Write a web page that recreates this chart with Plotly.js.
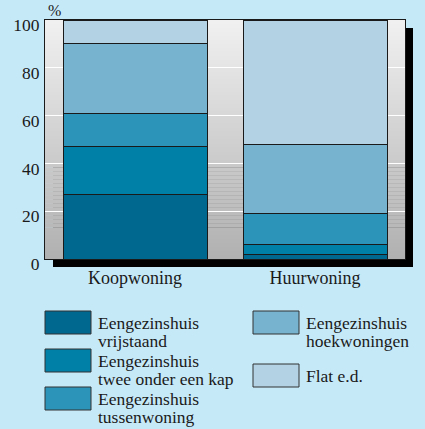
<!DOCTYPE html>
<html>
<head>
<meta charset="utf-8">
<script src="https://cdn.plot.ly/plotly-3.0.1.min.js"></script>
<style>
  html, body { margin: 0; padding: 0; background: #c6e9f8; }
  #chart { width: 425px; height: 429px; }
</style>
</head>
<body>
<div id="chart"></div>
<script>
// ---- data ----
const categories = ['Koopwoning', 'Huurwoning'];
const seriesNames = [
  'Eengezinshuis vrijstaand',
  'Eengezinshuis twee onder een kap',
  'Eengezinshuis tussenwoning',
  'Eengezinshuis hoekwoningen',
  'Flat e.d.'
];
const vrijstaand = [27, 2];
const tweeOnderEenKap = [20, 4];
const tussenwoning = [14, 13];
const hoekwoningen = [29, 29];
const flat = [10, 52];
const seriesColors = ['#00678e', '#007fa7', '#2d94b9', '#77b3cf', '#b3d3e4'];
const yTickVals = [0, 20, 40, 60, 80, 100];
const yTickText = ['0', '20', '40', '60', '80', '100'];

const seriesValues = [vrijstaand, tweeOnderEenKap, tussenwoning, hoekwoningen, flat];

// ---- geometry ----
const W = 425, H = 429;
const M = {l: 45, r: 20, t: 20, b: 170};
const PW = W - M.l - M.r, PH = H - M.t - M.b;
const px2x = p => (p - M.l) / PW;
const px2y = p => (H - M.b - p) / PH;
const serif = 'Liberation Serif';

const traces = seriesValues.map((vals, i) => ({
  type: 'bar',
  x: categories,
  y: vals,
  name: seriesNames[i],
  marker: {color: seriesColors[i], line: {color: '#1a1a1a', width: 1}},
  width: 0.8,
  hoverinfo: 'x+y+name',
  showlegend: false
}));

const shapes = [];
// drop shadow
shapes.push({type: 'rect', xref: 'paper', yref: 'paper', layer: 'below',
  x0: px2x(M.l + 8), x1: px2x(W - M.r + 8), y0: px2y(H - M.b + 8), y1: px2y(M.t + 8),
  fillcolor: '#000', line: {width: 0}});
// gradient background of plot area
const N = 60;
const gradTop = [0xf1, 0xf1, 0xf1], gradBot = [0xb0, 0xb0, 0xb0];
for (let k = 0; k < N; k++) {
  const t = (k + 0.5) / N;
  const c = gradTop.map((v, j) => Math.round(v + (gradBot[j] - v) * t));
  shapes.push({type: 'rect', xref: 'paper', yref: 'paper', layer: 'below',
    x0: 0, x1: 1, y0: Math.max(0, 1 - (k + 1) / N - 0.002), y1: 1 - k / N,
    fillcolor: `rgb(${c[0]},${c[1]},${c[2]})`, line: {width: 0}});
}

// custom legend
const annotations = [];
const legendPos = [
  {sx: 45, sy: 311},
  {sx: 45, sy: 349},
  {sx: 45, sy: 387},
  {sx: 253, sy: 311},
  {sx: 253, sy: 364}
];
const swW = 46, swH = 23;
seriesNames.forEach((name, i) => {
  const p = legendPos[i];
  shapes.push({type: 'rect', xref: 'paper', yref: 'paper', layer: 'above',
    x0: px2x(p.sx), x1: px2x(p.sx + swW), y0: px2y(p.sy + swH), y1: px2y(p.sy),
    fillcolor: seriesColors[i], line: {color: '#333', width: 1}});
  let lines;
  const idx = name.indexOf(' ');
  if (name.startsWith('Eengezinshuis ')) lines = [name.slice(0, idx), name.slice(idx + 1)];
  else lines = [name];
  lines.forEach((ln, j) => {
    annotations.push({xref: 'paper', yref: 'paper', showarrow: false,
      x: px2x(p.sx + swW + 6), xanchor: 'left',
      y: px2y(p.sy + 12 + j * 18), yanchor: 'middle', borderpad: 0,
      text: ln, font: {family: serif, size: 17.5, color: '#1a1a1a'}});
  });
});
annotations.push({xref: 'paper', yref: 'paper', showarrow: false,
  x: px2x(46), xanchor: 'left', y: px2y(11), yanchor: 'middle',
  text: '%', font: {family: serif, size: 16, color: '#1a1a1a'}});

const layout = {
  width: W, height: H,
  margin: M,
  paper_bgcolor: '#c6e9f8',
  plot_bgcolor: 'rgba(0,0,0,0)',
  font: {family: serif},
  barmode: 'stack',
  bargap: 0.2,
  xaxis: {
    type: 'category', range: [-0.5, 1.5],
    showgrid: false, zeroline: false,
    showline: true, mirror: true, linecolor: '#1a1a1a', linewidth: 1,
    ticks: '', ticklabelstandoff: 2,
    tickfont: {family: serif, size: 18, color: '#1a1a1a'}
  },
  yaxis: {
    range: [0, 100],
    tickvals: yTickVals, ticktext: yTickText,
    showgrid: true, gridcolor: '#ffffff', gridwidth: 1,
    zeroline: false,
    showline: true, mirror: true, linecolor: '#1a1a1a', linewidth: 1,
    ticks: '', ticklabelstandoff: 1, ticklabelshift: 5,
    tickfont: {family: serif, size: 17.5, color: '#1a1a1a'}
  },
  shapes: shapes,
  annotations: annotations,
  showlegend: false
};

Plotly.newPlot('chart', traces, layout, {displayModeBar: false, staticPlot: true});
</script>
</body>
</html>
